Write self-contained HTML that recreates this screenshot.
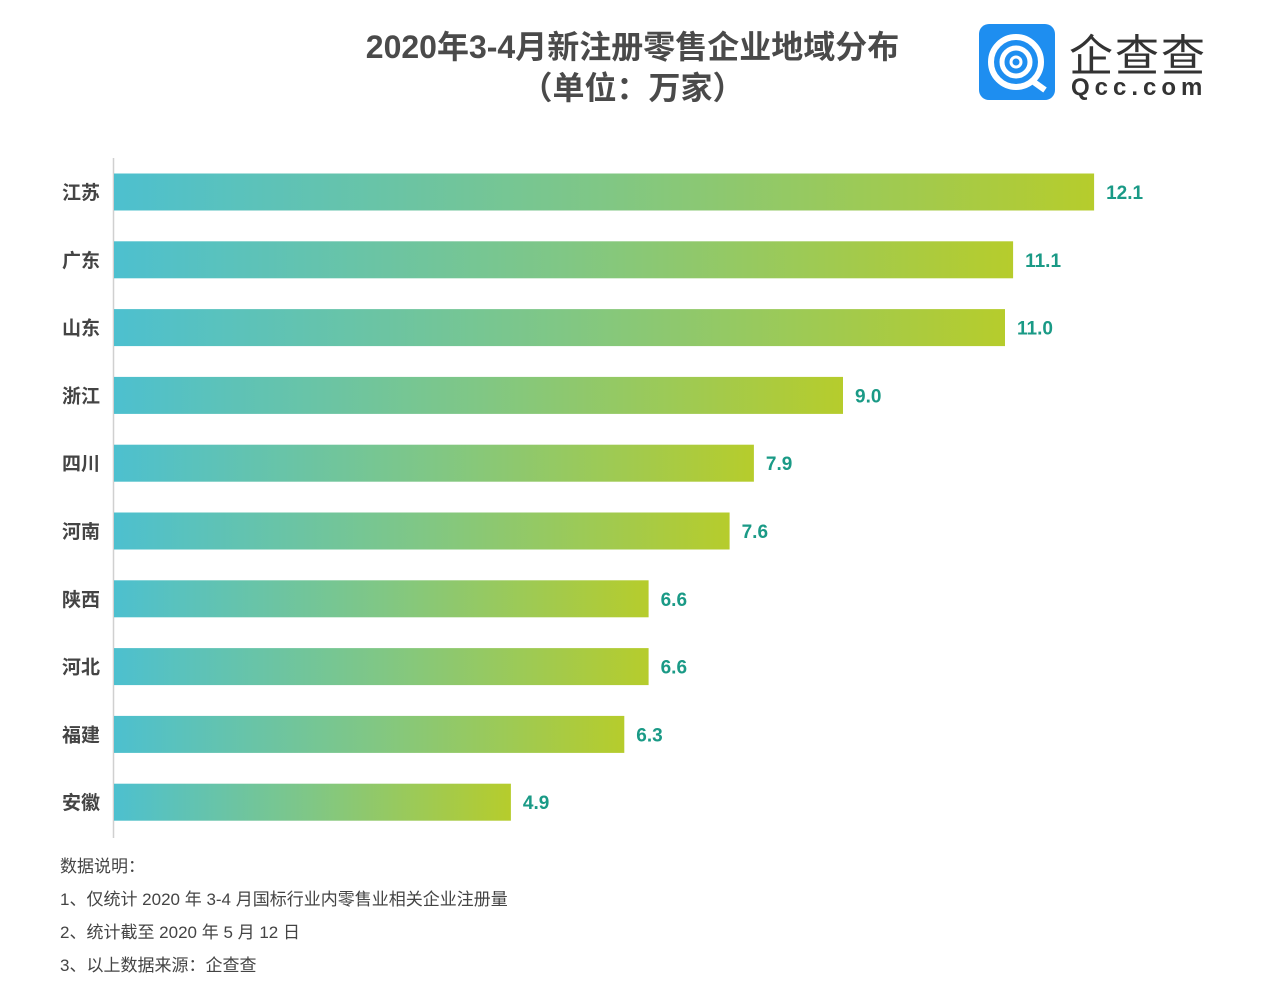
<!DOCTYPE html>
<html><head><meta charset="utf-8"><style>
body{margin:0;background:#fff;font-family:"Liberation Sans","Noto Sans CJK SC",sans-serif;}
#wrap{position:relative;width:1267px;height:983px;overflow:hidden;}
.t{position:absolute;color:#444;}
</style></head><body>
<div id="wrap">
<div class="t" style="left:290px;top:27px;width:685px;text-align:center;font-size:32px;font-weight:bold;line-height:41px;color:#4a4a4a;">2020年3-4月新注册零售企业地域分布<br>（单位：万家）</div>
<div style="position:absolute;left:979px;top:24px;width:230px;height:80px;">
<svg width="230" height="80">
<rect x="0" y="0" width="76" height="76" rx="10" fill="#1e8ef0"/>
<circle cx="37" cy="38" r="25" fill="none" stroke="#fff" stroke-width="6"/>
<circle cx="37" cy="38" r="14" fill="none" stroke="#fff" stroke-width="5"/>
<circle cx="37" cy="38" r="5" fill="none" stroke="#fff" stroke-width="3"/>
<line x1="52" y1="56" x2="66" y2="66" stroke="#fff" stroke-width="6"/>
</svg>
<div class="t" style="left:90px;top:-4px;font-size:44px;color:#333;letter-spacing:2px;">企查查</div>
<div class="t" style="left:92px;top:50px;font-size:24px;font-weight:bold;color:#333;letter-spacing:5px;">Qcc.com</div>
</div>
<svg id="chart" width="1267" height="983" style="position:absolute;left:0;top:0;">
<defs><linearGradient id="g" x1="0" x2="1" y1="0" y2="0"><stop offset="0" stop-color="#4dc0cf"/><stop offset="0.5" stop-color="#80c785"/><stop offset="1" stop-color="#b6cc2c"/></linearGradient></defs>
<line x1="113.5" y1="158" x2="113.5" y2="838" stroke="#d0d0d0" stroke-width="1.5"/>
</svg>
<div class="t" style="left:60px;top:850px;font-size:17px;line-height:33px;color:#444;">数据说明：<br>1、仅统计 2020 年 3-4 月国标行业内零售业相关企业注册量<br>2、统计截至 2020 年 5 月 12 日<br>3、以上数据来源：企查查</div>
</div>
<script>
const categories=["江苏","广东","山东","浙江","四川","河南","陕西","河北","福建","安徽"];
const values=[12.1,11.1,11.0,9.0,7.9,7.6,6.6,6.6,6.3,4.9];
const labels=["12.1","11.1","11.0","9.0","7.9","7.6","6.6","6.6","6.3","4.9"];
const svg=document.getElementById('chart');
const NS='http://www.w3.org/2000/svg';
const x0=114,scale=81.0,rowTop=192,rowStep=67.8,bh=37;
const xs=v=>v*scale;
const yc=i=>rowTop+i*rowStep;
categories.forEach((c,i)=>{
  const r=document.createElementNS(NS,'rect');
  r.setAttribute('x',x0);r.setAttribute('y',yc(i)-bh/2);
  r.setAttribute('width',xs(values[i]));r.setAttribute('height',bh);
  r.setAttribute('fill','url(#g)');
  
  
  svg.appendChild(r);
  const t=document.createElementNS(NS,'text');
  t.setAttribute('x',100);t.setAttribute('y',yc(i)+7);
  t.setAttribute('text-anchor','end');t.setAttribute('font-size','19');
  t.setAttribute('font-weight','bold');t.setAttribute('fill','#444');
  t.setAttribute('font-family','"Liberation Sans","Noto Sans CJK SC",sans-serif');
  t.textContent=c;
  
  
  svg.appendChild(t);
  const v=document.createElementNS(NS,'text');
  v.setAttribute('x',x0+xs(values[i])+12);v.setAttribute('y',yc(i)+7);
  v.setAttribute('font-size','19');v.setAttribute('font-weight','bold');
  v.setAttribute('fill','#1a9a86');
  v.setAttribute('font-family','"Liberation Sans",sans-serif');
  v.textContent=labels[i];
  
  
  svg.appendChild(v);
});
</script>
</body></html>
